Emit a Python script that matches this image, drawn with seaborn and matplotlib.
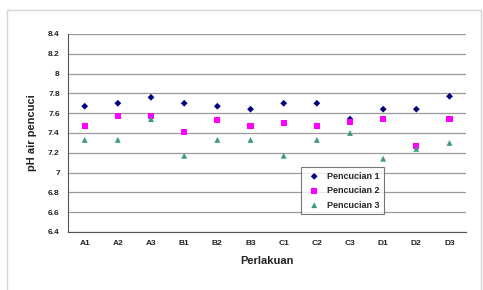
import matplotlib
matplotlib.use("Agg")
import matplotlib.pyplot as plt
import seaborn as sns
import pandas as pd
import numpy as np

categories = ["A1", "A2", "A3", "B1", "B2", "B3", "C1", "C2", "C3", "D1", "D2", "D3"]
pencucian1 = [7.67, 7.70, 7.76, 7.70, 7.67, 7.64, 7.70, 7.70, 7.54, 7.64, 7.64, 7.77]
pencucian2 = [7.47, 7.57, 7.57, 7.41, 7.53, 7.47, 7.50, 7.47, 7.51, 7.54, 7.27, 7.54]
pencucian3 = [7.33, 7.33, 7.54, 7.17, 7.33, 7.33, 7.17, 7.33, 7.40, 7.14, 7.24, 7.30]
series_names = ["Pencucian 1", "Pencucian 2", "Pencucian 3"]
yticks = [6.4, 6.6, 6.8, 7.0, 7.2, 7.4, 7.6, 7.8, 8.0, 8.2, 8.4]

rows = []
for name, vals in zip(series_names, [pencucian1, pencucian2, pencucian3]):
    for c, v in zip(categories, vals):
        rows.append({"Perlakuan": c, "pH": v, "Seri": name, "x": categories.index(c)})
df = pd.DataFrame(rows)

sns.set_style("white")
plt.rcParams['font.family'] = ['Liberation Sans', 'DejaVu Sans']

fig = plt.figure(figsize=(4.83, 2.90), dpi=100)
ax = fig.add_axes([0.141, 0.2, 0.824, 0.683])

palette = {"Pencucian 1": "#000080", "Pencucian 2": "#FF00FF", "Pencucian 3": "#3d9a7c"}
markers = {"Pencucian 1": "D", "Pencucian 2": "s", "Pencucian 3": "^"}
sizes = {"Pencucian 1": 12, "Pencucian 2": 20, "Pencucian 3": 18}
for name in series_names:
    sub = df[df["Seri"] == name]
    sns.scatterplot(data=sub, x="x", y="pH", color=palette[name], marker=markers[name],
                    s=sizes[name], edgecolor="none", ax=ax, label=name, zorder=3)

ax.set_ylim(6.4, 8.4)
ax.set_xlim(-0.5, len(categories) - 0.5)
ax.set_yticks(yticks)
ax.set_yticklabels([("%g" % t) for t in yticks], fontsize=6, color="#222222", fontweight="bold")
ax.set_xticks(range(len(categories)))
ax.set_xticklabels(categories, fontsize=6, fontweight="bold", color="#222222")
ax.set_xticks(np.arange(-0.5, len(categories), 1.0), minor=True)
ax.tick_params(axis="x", which="major", length=0, pad=6)
ax.tick_params(axis="x", which="minor", length=3, color="#555555", direction="out")
ax.tick_params(axis="y", length=3, color="#555555", direction="out", pad=3)
ax.yaxis.grid(True, color="#9a9a9a", linewidth=0.9)
ax.xaxis.grid(False)
for s in ["top", "right"]:
    ax.spines[s].set_visible(False)
for s in ["left", "bottom"]:
    ax.spines[s].set_color("#555555")
    ax.spines[s].set_linewidth(0.8)

ax.set_xlabel("Perlakuan", fontsize=8, fontweight="bold", color="#222222", labelpad=6)
ax.set_ylabel("pH air pencuci", fontsize=8, fontweight="bold", color="#222222", labelpad=8)

leg = ax.legend(loc="upper left", bbox_to_anchor=(0.573, 0.35), fontsize=6.5, frameon=True,
                fancybox=False, edgecolor="#555555", borderpad=0.5, labelspacing=0.6,
                handletextpad=0.4, prop={"weight": "bold", "size": 6.5})
leg.get_frame().set_linewidth(0.8)

fig.patches.append(plt.Rectangle((7 / 483, -0.05), 474 / 483, 1.05 - 10 / 290,
                                 transform=fig.transFigure, fill=False,
                                 edgecolor="#d4d4d4", linewidth=1))
fig.savefig("out.png", dpi=100)
